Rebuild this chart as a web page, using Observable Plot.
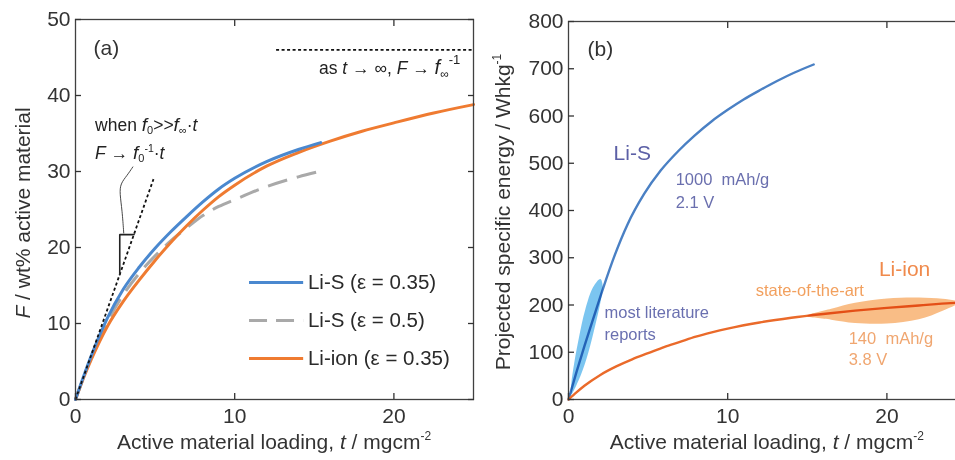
<!DOCTYPE html>
<html><head><meta charset="utf-8">
<script src="https://cdn.jsdelivr.net/npm/d3@7"></script>
<script src="https://cdn.jsdelivr.net/npm/@observablehq/plot@0.6"></script>
<style>
html,body{margin:0;padding:0;overflow:hidden;background:#fff;width:955px;height:460px}
#wrap{display:flex;width:973px;height:460px}
#wrap svg{font-family:"Liberation Sans",Arial,sans-serif;overflow:visible}
</style></head><body><div id="wrap"></div><script>
// ---------- Panel (a) data ----------
const tLiS35 = [0,0.5,1,2,3,4,5,6,7,8,9,10,12,14,15.4];
const fLiS35 = [0,3.0,5.8,10.7,14.5,17.4,19.9,22.1,24.1,26.0,27.7,29.1,31.3,32.9,33.8];
const tLiS50 = [0,1,2,3,4,5,6,7,8,9,10,12,14,15.3];
const fLiS50 = [0,5.6,10.2,13.8,16.6,18.9,20.9,22.6,24.2,25.4,26.3,28.0,29.3,30.0];
const tLiIonA = [0,0.5,1,2,3,4,5,6,7,8,9,10,12,14,16,18,20,22.5,25];
const fLiIonA = [0,2.8,5.3,9.6,12.9,15.7,18.3,20.7,22.9,24.9,26.7,28.2,30.7,32.5,34.0,35.3,36.4,37.7,38.8];
const slopeT = [0,4.9], slopeF = [0,29.0];
const asymT = [12.6,25], asymF = [46,46];
const triT = [2.78,2.78,3.68], triF = [16.4,21.7,21.7];
const leadT = [3.03,2.93,2.78,2.82,3.25,3.6], leadF = [21.9,24.9,27.1,28.4,29.5,30.6];
const legendLabels = ["Li-S (ε = 0.35)","Li-S (ε = 0.5)","Li-ion (ε = 0.35)"];
const legendF = [15.4,10.4,5.4];
const legendT = [10.9,14.3,14.6];

// ---------- Panel (b) data ----------
const tLiSB = [0,0.5,1,1.6,2.2,2.9,3.7,4.75,5.8,6.9,7.9,9,10,11,12.1,13.1,14.2,15.4];
const eLiSB = [0,58,113,176,238,305,370,435,485,526,558,589,613,635,656,674,692,709];
const tLiIonB = [0,0.5,1,2,3,4,5,6,7,8,9,10,12,14,16,18,20,22,24,25];
const eLiIonB = [0,15,29,52,70,85,98,111,122,133,142,150,163,173,181,188,194,199,204,206];
const blobST = [0.15,0.75,1.25,1.7,2.0,2.15,2.0,1.55,1.05,0.65,0.35,0.18];
const blobSE = [10,50,100,160,205,240,255,238,190,130,75,35];
const blobIT = [15.0,16.5,18,20,22,23.5,24.5,23.5,22,20,18,16.5];
const blobIE = [177,192,205,214,216,213,206,188,170,161,162,169];

const xTicks = [0,10,20];
const xInner = [10,20];
const yTicksA = [0,10,20,30,40,50];
const yTicksB = [0,100,200,300,400,500,600,700,800];

const zip = (xs, ys) => xs.map((x,i) => ({x, y: ys[i]}));
const FONT = '"Liberation Sans",Arial,sans-serif';
const AX = "#404040";

function rich(svg, x, y, parts, o) {
  const t = d3.select(svg).append("text")
    .attr("x", x).attr("y", y).attr("font-size", o.size).attr("fill", o.fill || "#333")
    .attr("text-anchor", o.anchor || "start").attr("font-family", FONT);
  if (o.rotate) t.attr("transform", `rotate(-90 ${x} ${y})`);
  for (const p of parts) {
    const s = t.append("tspan").text(p.text);
    if (p.italic) s.attr("font-style", "italic");
    if (p.dx) s.attr("dx", p.dx);
    if (p.dy) s.attr("dy", p.dy);
    if (p.size) s.attr("font-size", p.size);
  }
}

function axes(yTicks) {
  return [
    Plot.frame({stroke: AX, strokeWidth: 1.3}),
    Plot.axisY(yTicks, {anchor: "left", tickSize: -6, tickPadding: 11, fontSize: 21, label: null, strokeWidth: 1.3}),
    Plot.axisY(yTicks, {anchor: "right", tickSize: -6, tickFormat: () => "", label: null, strokeWidth: 1.3}),
    Plot.axisX(xTicks, {anchor: "bottom", tickSize: -6, tickPadding: 15, fontSize: 21, label: null, strokeWidth: 1.3}),
    Plot.axisX(xInner, {anchor: "top", tickSize: -6, tickFormat: () => "", label: null, strokeWidth: 1.3})
  ];
}

// ---------- Panel (a) ----------
const cBlueA = "#4a88cf", cOrgA = "#ef7b31", cGray = "#a9a9a9";
const legStyles = [
  {stroke: cBlueA},
  {stroke: cGray, strokeDasharray: "18,9"},
  {stroke: cOrgA}
];
const chartA = Plot.plot({
  width: 480, height: 460, marginLeft: 75, marginRight: 7, marginTop: 19, marginBottom: 61,
  x: {domain: [0,25]}, y: {domain: [0,50]},
  style: {fontFamily: FONT, color: "#333", background: "white", overflow: "visible"},
  marks: [
    Plot.line(zip(tLiS50, fLiS50), {x: "x", y: "y", stroke: cGray, strokeWidth: 3, strokeDasharray: "20,10", strokeLinecap: "butt", curve: "monotone-x"}),
    Plot.line(zip(tLiIonA, fLiIonA), {x: "x", y: "y", stroke: cOrgA, strokeWidth: 3, curve: "monotone-x"}),
    Plot.line(zip(tLiS35, fLiS35), {x: "x", y: "y", stroke: cBlueA, strokeWidth: 3, curve: "monotone-x"}),
    Plot.line(zip(slopeT, slopeF), {x: "x", y: "y", stroke: "#111", strokeWidth: 1.8, strokeDasharray: "3,2.5", strokeLinecap: "butt"}),
    Plot.line(zip(asymT, asymF), {x: "x", y: "y", stroke: "#111", strokeWidth: 1.8, strokeDasharray: "3,2.5", strokeLinecap: "butt"}),
    Plot.line(zip(triT, triF), {x: "x", y: "y", stroke: "#222", strokeWidth: 1.6, strokeLinejoin: "miter"}),
    Plot.line(zip(leadT, leadF), {x: "x", y: "y", stroke: "#333", strokeWidth: 0.9, curve: "basis"}),
    ...legendLabels.map((lab, i) => Plot.link([{y: legendF[i]}], {x1: () => legendT[0], x2: () => legendT[1], y1: "y", y2: "y", strokeWidth: 3, strokeLinecap: "butt", ...legStyles[i]})),
    Plot.text(legendLabels.map((lab, i) => ({lab, y: legendF[i]})), {x: () => legendT[2], y: "y", text: "lab", textAnchor: "start", lineAnchor: "middle", fontSize: 20.5, fill: "#2a2a2a"}),
    Plot.text([{x: 1.13, y: 45.3, s: "(a)"}], {x: "x", y: "y", text: "s", textAnchor: "start", lineAnchor: "bottom", fontSize: 21, fill: "#333"}),
    ...axes(yTicksA)
  ]
});

// ---------- Panel (b) ----------
const cBlueB = "#4a80c4", cOrgB = "#ea6a2a";
const chartB = Plot.plot({
  width: 493, height: 460, marginLeft: 88, marginRight: 7, marginTop: 21, marginBottom: 61,
  x: {domain: [0,25]}, y: {domain: [0,800]},
  style: {fontFamily: FONT, color: "#333", background: "white", overflow: "visible"},
  marks: [
    Plot.line(zip(tLiSB, eLiSB), {x: "x", y: "y", stroke: cBlueB, strokeWidth: 2.4, curve: "monotone-x"}),
    Plot.line(zip(tLiIonB, eLiIonB), {x: "x", y: "y", stroke: cOrgB, strokeWidth: 2.4, curve: "monotone-x"}),
    Plot.line(zip(blobST, blobSE), {x: "x", y: "y", fill: "#5ab6ec", fillOpacity: 0.8, stroke: "none", curve: "catmull-rom-closed", mixBlendMode: "multiply"}),
    Plot.line(zip(blobIT, blobIE), {x: "x", y: "y", fill: "#f7ad68", fillOpacity: 0.8, stroke: "none", curve: "catmull-rom-closed", mixBlendMode: "multiply"}),
    Plot.text([{x: 1.2, y: 728, s: "(b)"}], {x: "x", y: "y", text: "s", textAnchor: "start", lineAnchor: "bottom", fontSize: 21, fill: "#333"}),
    Plot.text([{x: 2.83, y: 506, s: "Li-S"}], {x: "x", y: "y", text: "s", textAnchor: "start", lineAnchor: "bottom", fontSize: 21, fill: "#5c60a6"}),
    Plot.text([{x: 6.73, y: 455, s: "1000  mAh/g"}, {x: 6.73, y: 406, s: "2.1 V"}], {x: "x", y: "y", text: "s", textAnchor: "start", lineAnchor: "bottom", fontSize: 16.5, fill: "#6a6fae"}),
    Plot.text([{x: 2.26, y: 173, s: "most literature"}, {x: 2.26, y: 125, s: "reports"}], {x: "x", y: "y", text: "s", textAnchor: "start", lineAnchor: "bottom", fontSize: 16.5, fill: "#6a70b0"}),
    Plot.text([{x: 19.5, y: 262, s: "Li-ion"}], {x: "x", y: "y", text: "s", textAnchor: "start", lineAnchor: "bottom", fontSize: 21, fill: "#f08a4c"}),
    Plot.text([{x: 11.76, y: 220, s: "state-of-the-art"}], {x: "x", y: "y", text: "s", textAnchor: "start", lineAnchor: "bottom", fontSize: 16.5, fill: "#f2a05e"}),
    Plot.text([{x: 17.6, y: 118, s: "140  mAh/g"}, {x: 17.6, y: 72, s: "3.8 V"}], {x: "x", y: "y", text: "s", textAnchor: "start", lineAnchor: "bottom", fontSize: 16.5, fill: "#f0a670"}),
    ...axes(yTicksB)
  ]
});

const wrap = document.getElementById("wrap");
wrap.appendChild(chartA);
wrap.appendChild(chartB);

// axis titles and math annotations (rich text)
const xa = chartA.scale("x"), ya = chartA.scale("y");
rich(chartA, 274, 449, [{text: "Active material loading, "}, {text: "t", italic: true}, {text: " / mgcm"}, {text: "-2", size: 12, dy: -9}], {size: 21, anchor: "middle"});
rich(chartA, 30, 213, [{text: "F", italic: true}, {text: " / wt% active material"}], {size: 21, anchor: "middle", rotate: true});
rich(chartA, xa.apply(1.26), ya.apply(35.3), [
  {text: "when "}, {text: "f", italic: true, size: 19}, {text: "0", size: 11, dy: 3}, {text: ">>", dy: -3},
  {text: "f", italic: true, size: 19}, {text: "∞", size: 11, dy: 3}, {text: "·", dy: -3}, {text: "t", italic: true}
], {size: 17.5, fill: "#222"});
rich(chartA, xa.apply(1.26), ya.apply(31.6), [
  {text: "F", italic: true}, {text: " → "}, {text: "f", italic: true, size: 19}, {text: "0", size: 11, dy: 3},
  {text: "-1", size: 10.5, dy: -10}, {text: "·", dy: 7}, {text: "t", italic: true}
], {size: 17.5, fill: "#222"});
rich(chartA, xa.apply(24.2), ya.apply(42.7), [
  {text: "as "}, {text: "t", italic: true}, {text: " → ∞, "}, {text: "F", italic: true}, {text: " → "},
  {text: "f", italic: true, size: 20}, {text: "∞", size: 12, dy: 4}, {text: "-1", size: 13, dy: -14}
], {size: 17.5, fill: "#222", anchor: "end"});

rich(chartB, 286.75, 449, [{text: "Active material loading, "}, {text: "t", italic: true}, {text: " / mgcm"}, {text: "-2", size: 12, dy: -9}], {size: 21, anchor: "middle"});
rich(chartB, 30, 212, [{text: "Projected specific energy / Whkg"}, {text: "-1", size: 12, dy: -9}], {size: 21, anchor: "middle", rotate: true});
</script></body></html>
